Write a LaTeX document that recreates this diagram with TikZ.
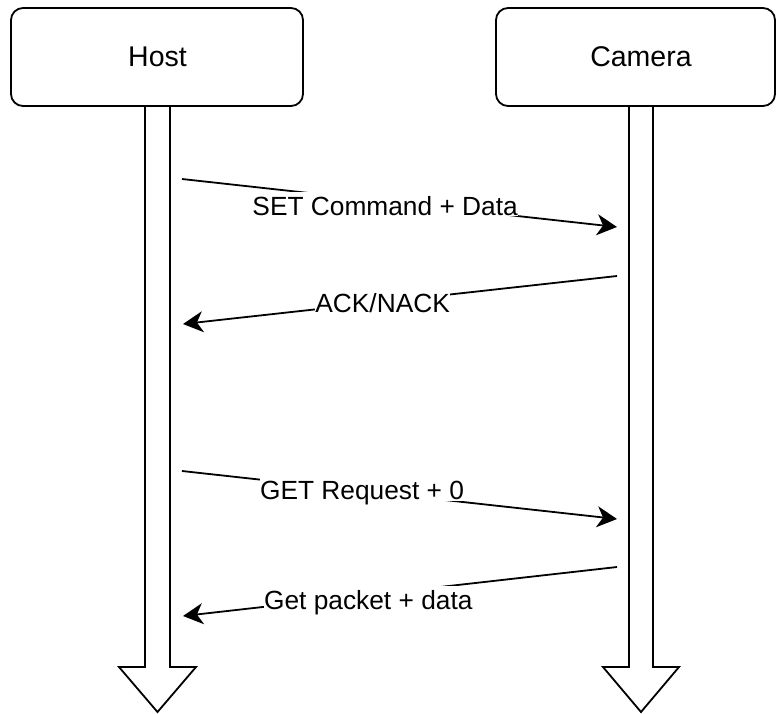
\documentclass[tikz,border=0pt]{standalone}
\usepackage{fontspec}
\setmainfont{Liberation Sans}
\usetikzlibrary{arrows.meta}
\begin{document}
\begin{tikzpicture}[x=1pt,y=-1pt,
  actorbox/.style={draw, line width=1.8pt, rounded corners=12pt, inner sep=0pt},
  lifeline/.style={draw, line width=1.8pt, fill=white, line join=miter},
  msg/.style={line width=1.8pt, -{Stealth[length=20pt,width=21pt,inset=6pt]}},
  msglabel/.style={fill=white, inner sep=0pt, text height=23pt, text depth=1pt,
    font=\fontsize{26.3}{30}\selectfont},
  actorlabel/.style={inner sep=0pt, font=\fontsize{28.5}{32}\selectfont}]
\useasboundingbox (0,0) rectangle (776,713);
% lifelines (block arrows)
\draw[lifeline] (145,106) -- (145,667) -- (119,667) -- (157.5,712) -- (196,667) -- (170,667) -- (170,106);
\draw[lifeline] (629,106) -- (629,667) -- (603,667) -- (641,712) -- (679,667) -- (653,667) -- (653,106);
% actor boxes
\node[actorbox, minimum width=292pt, minimum height=98pt] (host) at (157,57) {};
\node[actorlabel] (hostlabel) at (157.5,57) {Host};
\node[actorbox, minimum width=279pt, minimum height=98pt] (camera) at (635.5,57) {};
\node[actorlabel] (cameralabel) at (641,57) {Camera};
% message endpoints
\coordinate (h1) at (182,179);  \coordinate (c1) at (617,227);
\coordinate (c2) at (617,276);  \coordinate (h2) at (183,324);
\coordinate (h3) at (182,471);  \coordinate (c3) at (617,519);
\coordinate (c4) at (617,567);  \coordinate (h4) at (183,616);
% messages
\draw[msg] (h1) -- node[msglabel, pos=0.467, yshift=-2.6pt] (l1) {SET Command + Data} (c1);
\draw[msg] (c2) -- node[msglabel, pos=0.54] (l2) {ACK/NACK} (h2);
\draw[msg] (h3) -- node[msglabel, pos=0.414, yshift=2pt] (l3) {GET Request + 0} (c3);
\draw[msg] (c4) -- node[msglabel, pos=0.573, yshift=-3.3pt] (l4) {Get packet + data} (h4);
\end{tikzpicture}
\end{document}
